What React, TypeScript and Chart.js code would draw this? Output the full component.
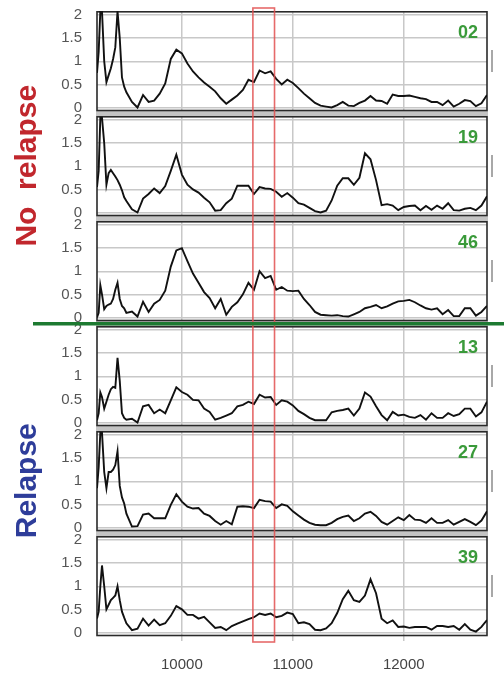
import React, { useEffect, useRef } from 'react';
import { Chart, registerables } from 'chart.js';

Chart.register(...registerables);

// Wavenumber positions (shared by all six spectra)
const wavenumbers = [
  9235, 9250, 9265, 9280, 9300, 9320, 9340, 9360, 9380, 9400, 9420, 9440, 9460, 9480, 9500,
  9550, 9600, 9650, 9700, 9750, 9800, 9850, 9900, 9950, 10000,
  10050, 10100, 10150, 10200, 10250, 10300, 10350, 10400, 10450, 10500,
  10550, 10600, 10650, 10700, 10750, 10800, 10850, 10900, 10950, 11000,
  11050, 11100, 11150, 11200, 11250, 11300, 11350, 11400, 11450, 11500,
  11550, 11600, 11650, 11700, 11750, 11800, 11850, 11900, 11950, 12000,
  12050, 12100, 12150, 12200, 12250, 12300, 12350, 12400, 12450, 12500,
  12550, 12600, 12650, 12700, 12750,
];

const s02 = [
  0.75, 1.2, 2.08, 2.08, 1.0, 0.55, 0.7, 0.85, 1.05, 1.3, 2.08, 1.5, 0.65, 0.45, 0.33,
  0.12, 0.0, 0.27, 0.12, 0.15, 0.3, 0.52, 1.05, 1.25, 1.17,
  0.95, 0.78, 0.65, 0.54, 0.45, 0.35, 0.2, 0.08, 0.17, 0.26,
  0.38, 0.6, 0.55, 0.8, 0.74, 0.78, 0.62, 0.5, 0.6, 0.53,
  0.42, 0.3, 0.2, 0.1, 0.04, 0.02, 0.0, 0.05, 0.12, 0.04,
  0.03, 0.1, 0.15, 0.25, 0.15, 0.14, 0.08, 0.28, 0.25, 0.25,
  0.26, 0.23, 0.2, 0.18, 0.12, 0.12, 0.05, 0.15, 0.02, 0.08,
  0.16, 0.14, 0.03, 0.09, 0.27,
];

const s19 = [
  0.55, 0.9, 2.05, 2.05, 1.5, 0.6, 0.85, 0.92, 0.85, 0.78, 0.7, 0.6, 0.48, 0.33, 0.25,
  0.07, 0.0, 0.3, 0.4, 0.52, 0.42, 0.57, 0.9, 1.25, 0.82,
  0.6, 0.5, 0.43, 0.32, 0.22, 0.04, 0.05, 0.2, 0.3, 0.58,
  0.58, 0.58, 0.4, 0.55, 0.52, 0.51, 0.45, 0.34, 0.42, 0.32,
  0.2, 0.17, 0.1, 0.03, 0.0, 0.04, 0.26, 0.58, 0.74, 0.74,
  0.6, 0.75, 1.28, 1.15, 0.7, 0.16, 0.18, 0.15, 0.05, 0.12,
  0.14, 0.15, 0.05, 0.14, 0.06, 0.15, 0.08, 0.2, 0.05, 0.04,
  0.08, 0.1, 0.05, 0.15, 0.35,
];

const s46 = [
  0.0, 0.1, 0.7, 0.5, 0.18, 0.25, 0.28, 0.3, 0.4, 0.6, 0.75, 0.4, 0.25, 0.2, 0.1,
  0.13, 0.02, 0.34, 0.12, 0.3, 0.38, 0.58, 1.1, 1.45, 1.5,
  1.22, 0.95, 0.75, 0.55, 0.42, 0.2, 0.4, 0.06, 0.23, 0.33,
  0.5, 0.75, 0.6, 1.0, 0.85, 0.9, 0.6, 0.66, 0.58, 0.57,
  0.58, 0.4, 0.27, 0.12, 0.06, 0.05, 0.04, 0.05, 0.03, 0.02,
  0.07, 0.12, 0.2, 0.23, 0.27, 0.2, 0.24, 0.3, 0.35, 0.36,
  0.38, 0.33, 0.26, 0.2, 0.17, 0.2, 0.07, 0.16, 0.03, 0.03,
  0.2, 0.2, 0.04, 0.12, 0.25,
];

const s13 = [
  0.05, 0.2, 0.65, 0.55, 0.3, 0.45, 0.6, 0.72, 0.77, 0.75, 1.4, 0.9, 0.2, 0.1, 0.06,
  0.08, 0.0, 0.35, 0.38, 0.2, 0.28, 0.2, 0.48, 0.76, 0.66,
  0.6, 0.49, 0.48, 0.3, 0.23, 0.06, 0.1, 0.15, 0.2, 0.35,
  0.38, 0.45, 0.4, 0.6, 0.54, 0.55, 0.38, 0.48, 0.45, 0.37,
  0.25, 0.18, 0.1, 0.05, 0.05, 0.05, 0.22, 0.25, 0.27, 0.3,
  0.15, 0.3, 0.65, 0.56, 0.35, 0.16, 0.05, 0.23, 0.15, 0.17,
  0.12, 0.1, 0.16, 0.06, 0.2, 0.1, 0.1, 0.2, 0.14, 0.18,
  0.3, 0.3, 0.13, 0.22, 0.45,
];

const s27 = [
  0.85, 1.3, 2.05, 2.05, 1.2, 0.85, 1.2, 1.2, 1.25, 1.35, 1.65, 0.9, 0.65, 0.52, 0.3,
  0.02, 0.03, 0.28, 0.3, 0.2, 0.2, 0.2, 0.49, 0.72, 0.56,
  0.45, 0.41, 0.42, 0.3, 0.25, 0.14, 0.06, 0.14, 0.07, 0.45,
  0.46, 0.45, 0.42, 0.6, 0.57, 0.56, 0.42, 0.5, 0.47, 0.35,
  0.26, 0.17, 0.1, 0.06, 0.05, 0.05, 0.1, 0.18, 0.23, 0.26,
  0.14, 0.2, 0.3, 0.34, 0.25, 0.12, 0.06, 0.14, 0.22, 0.16,
  0.27, 0.17, 0.16, 0.1, 0.2, 0.1, 0.1, 0.16, 0.06, 0.12,
  0.18, 0.12, 0.05, 0.15, 0.35,
];

const s39 = [
  0.3, 0.45, 1.0, 1.45, 1.0, 0.5, 0.6, 0.7, 0.75, 0.8, 1.0, 0.7, 0.45, 0.32, 0.2,
  0.05, 0.08, 0.3, 0.15, 0.28, 0.16, 0.2, 0.36, 0.57, 0.5,
  0.38, 0.38, 0.3, 0.34, 0.22, 0.1, 0.12, 0.05, 0.14, 0.19,
  0.24, 0.29, 0.33, 0.41, 0.38, 0.41, 0.33, 0.36, 0.43, 0.4,
  0.2, 0.22, 0.18, 0.06, 0.05, 0.09, 0.2, 0.42, 0.72, 0.9,
  0.7, 0.66, 0.8, 1.15, 0.85, 0.3, 0.2, 0.26, 0.12, 0.13,
  0.1, 0.12, 0.12, 0.12, 0.06, 0.14, 0.14, 0.12, 0.14, 0.06,
  0.18, 0.06, 0.02, 0.12, 0.27,
];

const panelIds = ['02', '19', '46', '13', '27', '39'];
const panelSeries = [s02, s19, s46, s13, s27, s39];
const yTicks = [0, 0.5, 1, 1.5, 2];
const xTicks = [10000, 11000, 12000];
const X_MIN = 9235;
const X_MAX = 12750;
const Y_MIN = -0.184;
const Y_MAX = 2.087;
const Y_BORDER_BOTTOM = -0.065;
const boxRange = [10640, 10835];
const groupLabels = [
  { text: 'No  relapse', color: '#c1272d', panels: [0, 2] },
  { text: 'Relapse', color: '#2e3d9a', panels: [3, 5] },
];

const FONT = '"Liberation Sans", Arial, Helvetica, sans-serif';

const zeroPadding = (s: any) => {
  s.paddingTop = 0;
  s.paddingBottom = 0;
  s.paddingLeft = 0;
  s.paddingRight = 0;
};

const decorPlugin = {
  id: 'decor',
  beforeDatasetsDraw(chart: any) {
    const { ctx, chartArea } = chart;
    const { left, right } = chartArea;
    ctx.save();
    panelIds.forEach((_, i) => {
      const ys = chart.scales['y' + i];
      const top = ys.getPixelForValue(Y_MAX);
      const bot = ys.getPixelForValue(Y_BORDER_BOTTOM);
      if (i < panelIds.length - 1) {
        ctx.fillStyle = '#c4c4c4';
        ctx.fillRect(left - 1, bot, right - left + 2, ys.bottom - bot);
      }
      ctx.strokeStyle = '#2a2a2a';
      ctx.lineWidth = 1.6;
      ctx.strokeRect(left, top + 0.8, right - left, bot - top - 0.8);
    });
    ctx.restore();
  },
  afterDraw(chart: any) {
    const { ctx, chartArea } = chart;
    const { right } = chartArea;
    const xs = chart.scales.x;
    ctx.save();
    panelIds.forEach((id, i) => {
      const ys = chart.scales['y' + i];
      const top = ys.getPixelForValue(Y_MAX);
      ctx.fillStyle = '#3a9a3a';
      ctx.font = 'bold 18px ' + FONT;
      ctx.textAlign = 'right';
      ctx.textBaseline = 'middle';
      ctx.fillText(id, right - 9, top + 22);
      ctx.strokeStyle = '#a8a8a8';
      ctx.lineWidth = 2;
      ctx.beginPath();
      ctx.moveTo(right + 5, top + 39);
      ctx.lineTo(right + 5, top + 61);
      ctx.stroke();
    });
    const x0 = xs.getPixelForValue(boxRange[0]);
    const x1 = xs.getPixelForValue(boxRange[1]);
    ctx.strokeStyle = 'rgba(226, 80, 80, 0.85)';
    ctx.lineWidth = 1.6;
    ctx.strokeRect(x0, chartArea.top - 3, x1 - x0, chartArea.bottom - chartArea.top + 4);
    const y2 = chart.scales.y2;
    const sepY = (y2.getPixelForValue(Y_BORDER_BOTTOM) + y2.bottom) / 2 + 0.5;
    ctx.strokeStyle = '#1d7a31';
    ctx.lineWidth = 3.5;
    ctx.beginPath();
    ctx.moveTo(33, sepY);
    ctx.lineTo(chart.width, sepY);
    ctx.stroke();
    groupLabels.forEach((g) => {
      const a = chart.scales['y' + g.panels[0]];
      const b = chart.scales['y' + g.panels[1]];
      const cy = (a.top + b.getPixelForValue(Y_BORDER_BOTTOM)) / 2;
      ctx.save();
      ctx.translate(28, cy);
      ctx.rotate(-Math.PI / 2);
      ctx.fillStyle = g.color;
      ctx.font = 'bold 30px ' + FONT;
      ctx.textAlign = 'center';
      ctx.textBaseline = 'middle';
      ctx.fillText(g.text, 0, 0);
      ctx.restore();
    });
    ctx.restore();
  },
};

export default function App() {
  const ref = useRef<HTMLCanvasElement | null>(null);

  useEffect(() => {
    if (!ref.current) return;
    Chart.defaults.font.family = FONT;

    const scales: any = {
      x: {
        type: 'linear',
        min: X_MIN,
        max: X_MAX,
        afterBuildTicks: (s: any) => {
          s.ticks = xTicks.map((v) => ({ value: v }));
        },
        afterFit: (s: any) => {
          s.height = 34;
          zeroPadding(s);
        },
        grid: { color: '#c8c8c8', lineWidth: 1.5, drawTicks: false },
        border: { display: false },
        ticks: {
          padding: 15,
          color: '#444',
          font: { size: 15 },
          autoSkip: false,
          maxRotation: 0,
          callback: (v: any) => String(v),
        },
      },
    };

    // stacked axes are placed bottom-up in definition order, so define the last panel first
    for (let i = panelIds.length - 1; i >= 0; i--) {
      scales['y' + i] = {
        type: 'linear',
        position: 'left',
        stack: 'panels',
        stackWeight: 1,
        min: Y_MIN,
        max: Y_MAX,
        afterBuildTicks: (s: any) => {
          s.ticks = yTicks.map((v) => ({ value: v }));
        },
        afterFit: (s: any) => {
          s.width = 57;
          zeroPadding(s);
        },
        grid: { color: '#c8c8c8', lineWidth: 1.5, drawTicks: false },
        border: { display: false },
        ticks: {
          padding: 15,
          color: '#555',
          font: { size: 15 },
          autoSkip: false,
          callback: (v: any) => String(v),
        },
      };
    }

    const datasets = panelSeries.map((vals, i) => ({
      label: panelIds[i],
      data: wavenumbers.map((x, j) => ({ x, y: vals[j] })),
      yAxisID: 'y' + i,
      xAxisID: 'x',
      borderColor: '#111',
      borderWidth: 1.9,
      pointRadius: 0,
      tension: 0,
      fill: false,
    }));

    const chart = new Chart(ref.current, {
      type: 'line',
      data: { datasets },
      options: {
        responsive: false,
        animation: false,
        layout: { padding: { left: 40, right: 17, top: 11, bottom: 0 } },
        plugins: { legend: { display: false }, tooltip: { enabled: false } },
        scales,
      },
      plugins: [decorPlugin],
    } as any);

    return () => chart.destroy();
  }, []);

  return (
    <div style={{ position: 'absolute', left: 0, top: 0, width: 504, height: 675, background: '#fff' }}>
      <canvas ref={ref} width={504} height={675} style={{ width: 504, height: 675, display: 'block' }} />
    </div>
  );
}
